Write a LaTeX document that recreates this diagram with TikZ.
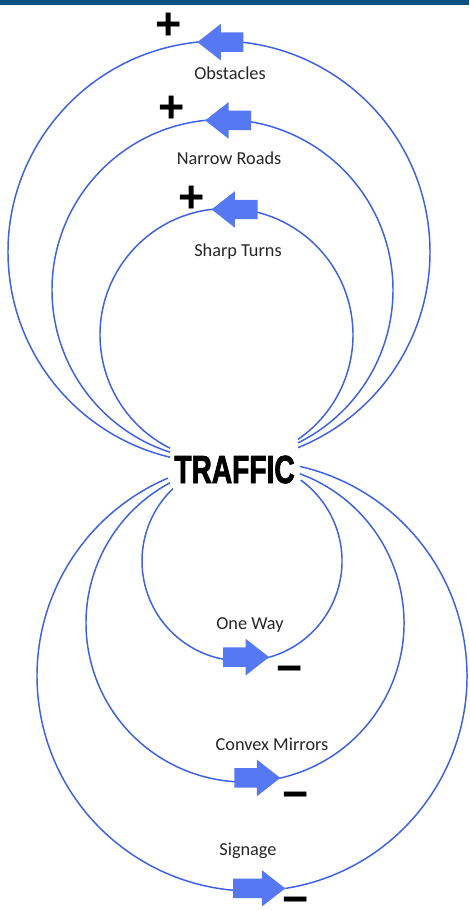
\documentclass[tikz,border=0pt]{standalone}
\usepackage{fontspec}
\setmainfont{Carlito}
\newfontfamily\heavyfont{Liberation Sans}
\newfontfamily\impactfont{Liberation Sans Bold}[FakeBold=2.5]
\usepackage{graphicx}
\usepackage{tikz}
\usetikzlibrary{shapes.arrows, calc, backgrounds}
\definecolor{barblue}{RGB}{12,80,128}
\definecolor{loopblue}{RGB}{62,96,226}
\definecolor{arrowblue}{RGB}{86,120,242}
\newcommand{\minussign}{\raisebox{0pt}[\height][-0.2em]{−}}

\begin{document}
\begin{tikzpicture}[x=0.025cm, y=-0.025cm,
  loopline/.style={draw=loopblue, line width=1.05pt},
  blockarr/.style={single arrow, fill=arrowblue, draw=none,
                   inner xsep=0pt, inner ysep=0.235cm,
                   minimum height=1.15cm,
                   single arrow head extend=0.215cm, single arrow tip angle=76},
  lbl/.style={font=\fontsize{13}{15}\selectfont, text=black!85, anchor=base, inner sep=0pt},
  sign/.style={font=\heavyfont\bfseries\fontsize{32}{34}\selectfont, anchor=base, inner sep=0pt},
  hub/.style={font=\impactfont\fontsize{27.8}{30}\selectfont, anchor=base, inner sep=0pt}
]
  \useasboundingbox (0,0) rectangle (469,911);

  % Top bar
  \fill[barblue] (0,0) rectangle (469,5);

  % Centre
  \node[hub] (traffic) at (234.5,483) {\scalebox{0.72}[1]{TRAFFIC}};

  % Loop centres
  \coordinate (c1) at (219,252);
  \coordinate (c2) at (222.5,290);
  \coordinate (c3) at (226.5,335);
  \coordinate (l1) at (242,561);
  \coordinate (l2) at (245,623);
  \coordinate (l3) at (252,676);

  % Upper loops (+)
  \node[blockarr, shape border rotate=180, anchor=tip] (obst)  at ($(c1)+(-96:211)$) {};
  \node[blockarr, shape border rotate=180, anchor=tip] (roads) at ($(c2)+(-96:170.5)$) {};
  \node[blockarr, shape border rotate=180, anchor=tip] (turns) at ($(c3)+(-97:126.5)$) {};

  % Lower loops (-)
  \node[blockarr, anchor=tip] (oneway)  at ($(l1)+(74:100)$) {};
  \node[blockarr, anchor=tip] (mirrors) at ($(l2)+(77:159)$) {};
  \node[blockarr, anchor=tip, minimum height=1.3cm] (signage) at ($(l3)+(81:215)$) {};

  % ── Loops ─────────────────────────────────────────────────────────────
  \begin{scope}[on background layer]
    \draw[loopline] (obst.tip) arc[start angle=-96, end angle=68, radius=211];
    \draw[loopline] (obst.tip) arc[start angle=-96, end angle=-256.6, radius=211];
    \draw[loopline] (roads.tip) arc[start angle=-96, end angle=63.7, radius=170.5];
    \draw[loopline] (roads.tip) arc[start angle=-96, end angle=-252.1, radius=170.5];
    \draw[loopline] (turns.tip) arc[start angle=-97, end angle=55.6, radius=126.5];
    \draw[loopline] (turns.tip) arc[start angle=-97, end angle=-243.5, radius=126.5];

    \draw[loopline] (oneway.tip) arc[start angle=74, end angle=-54, radius=100];
    \draw[loopline] (oneway.tip) arc[start angle=74, end angle=226.4, radius=100];
    \draw[loopline] (mirrors.tip) arc[start angle=77, end angle=-69.8, radius=159];
    \draw[loopline] (mirrors.tip) arc[start angle=77, end angle=241.9, radius=159];
    \draw[loopline] (signage.tip) arc[start angle=81, end angle=-77.1, radius=215];
    \draw[loopline] (signage.tip) arc[start angle=81, end angle=247, radius=215];
  \end{scope}

  % Labels
  \node[lbl] (obstlbl)    at (230,80)  {Obstacles};
  \node[lbl] (roadslbl)   at (229,165) {Narrow Roads};
  \node[lbl] (turnslbl)   at (238,257) {Sharp Turns};
  \node[lbl] (onewaylbl)  at (250,629) {One Way};
  \node[lbl] (mirrorslbl) at (272,750) {Convex Mirrors};
  \node[lbl] (signagelbl) at (248,855) {Signage};

  % Signs
  \node[sign] (obstsign)    at (169,39.5)  {+};
  \node[sign] (roadssign)   at (172,122.5) {+};
  \node[sign] (turnssign)   at (192,212.5) {+};
  \node[sign] (onewaysign)  at (290,683)   {\minussign};
  \node[sign] (mirrorssign) at (296,809)   {\minussign};
  \node[sign] (signagesign) at (296,914)   {\minussign};

\end{tikzpicture}
\end{document}
